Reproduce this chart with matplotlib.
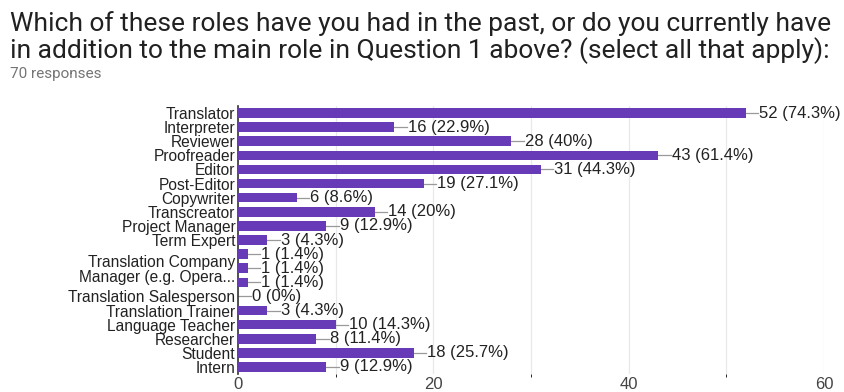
import matplotlib.pyplot as plt
import numpy as np

roles = ['Translator', 'Interpreter', 'Reviewer', 'Proofreader', 'Editor',
         'Post-Editor', 'Copywriter', 'Transcreator', 'Project Manager',
         'Term Expert', '', 'Translation Company\nManager (e.g. Opera...', '',
         'Translation Salesperson', 'Translation Trainer', 'Language Teacher',
         'Researcher', 'Student', 'Intern']
counts = [52, 16, 28, 43, 31, 19, 6, 14, 9, 3, 1, 1, 1, 0, 3, 10, 8, 18, 9]
pct_labels = ['74.3%', '22.9%', '40%', '61.4%', '44.3%', '27.1%', '8.6%', '20%',
              '12.9%', '4.3%', '1.4%', '1.4%', '1.4%', '0%', '4.3%', '14.3%',
              '11.4%', '25.7%', '12.9%']
xticks = [0, 20, 40, 60]

plt.rcParams['font.family'] = ['Liberation Sans', 'DejaVu Sans']

fig = plt.figure(figsize=(8.45, 3.92), dpi=100)
ax = fig.add_axes([0.2817, 0.0459, 0.975 - 0.2817, 0.7296 - 0.0459])

y = np.arange(len(roles))
ax.barh(y, counts, height=0.68, color='#673ab7', zorder=3)

# gray leader line, then "count (pct)"
for yi, c, p in zip(y, counts, pct_labels):
    ax.plot([c, c + 1.3], [yi, yi], color='#999999', lw=0.9, zorder=2)
    ax.text(c + 1.4, yi, f'{c} ({p})', va='center', ha='left',
            fontsize=12, color='#222222')

ax.set_ylim(len(roles) - 0.5, -0.5)
ax.set_xlim(0, 60)
ax.set_yticks(y)
ax.set_yticklabels(roles, fontsize=11.2, color='#222222', linespacing=1.0)
ax.set_xticks(xticks)
ax.set_xticklabels([str(t) for t in xticks], fontsize=12, color='#444444')
ax.set_xticks(np.arange(0, 61, 10), minor=True)
ax.tick_params(axis='both', length=0, pad=2)
ax.tick_params(axis='x', pad=2.5)
ax.grid(axis='x', which='both', color='#e8e8e8', lw=0.9, zorder=0)
for s in ['top', 'right', 'bottom']:
    ax.spines[s].set_visible(False)
ax.spines['left'].set_color('#333333')
ax.spines['left'].set_linewidth(1.2)

fig.text(0.012, 0.972, 'Which of these roles have you had in the past, or do you currently have\n'
         'in addition to the main role in Question 1 above? (select all that apply):',
         fontsize=19, family=['Roboto', 'DejaVu Sans'], color='#212121',
         va='top', ha='left', linespacing=1.05)
fig.text(0.012, 0.83, '70 responses', fontsize=11, family=['Roboto', 'DejaVu Sans'],
         color='#757575', va='top', ha='left')

fig.savefig('out.png', dpi=100, facecolor='white')
